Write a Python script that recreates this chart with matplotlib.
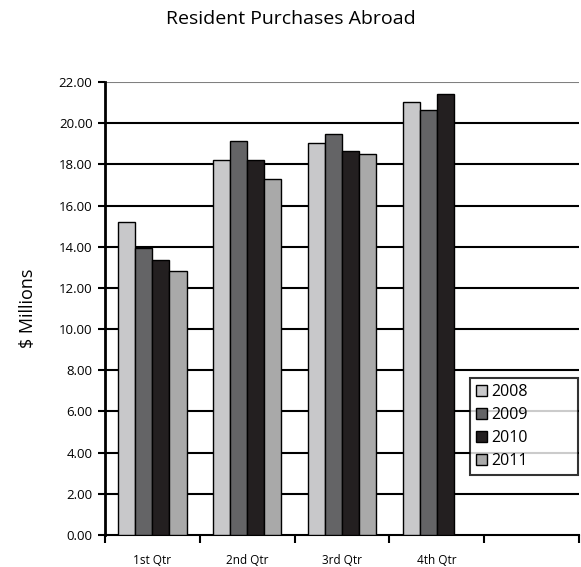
import numpy as np
import matplotlib.pyplot as plt
from matplotlib.ticker import FixedLocator, NullFormatter

plt.rcParams['font.family'] = ['Open Sans', 'DejaVu Sans']

quarters = ['1st Qtr', '2nd Qtr', '3rd Qtr', '4th Qtr']
years = ['2008', '2009', '2010', '2011']
v2008 = [15.20, 18.22, 19.04, 21.02]
v2009 = [13.96, 19.13, 19.46, 20.62]
v2010 = [13.37, 18.21, 18.63, 21.42]
v2011 = [12.83, 17.29, 18.52, np.nan]
colors = ['#c8c8ca', '#646466', '#231f20', '#a9a9a9']

series = [v2008, v2009, v2010, v2011]
n_slots = 5  # empty fifth slot on the axis

fig = plt.figure(figsize=(5.81, 5.67), dpi=100)
ax = fig.add_axes([105 / 581, 1 - 535 / 567, (579 - 105) / 581, (535 - 82) / 567])

x = np.arange(len(quarters))
w = 0.18
for i, (vals, c, yr) in enumerate(zip(series, colors, years)):
    ax.bar(x + (i - 1.5) * w, vals, width=w, color=c, edgecolor='black',
           linewidth=1.0, label=yr, zorder=3)

ax.set_xlim(-0.5, n_slots - 0.5)
ax.set_ylim(0, 22)
yt = np.arange(0, 22.1, 2)
ax.set_yticks(yt)
ax.set_yticklabels([f'{v:.2f}' for v in yt], fontsize=9.5)
for v in yt[1:-1]:
    ax.axhline(v, color='black', linewidth=1.5, zorder=1)
ax.axhline(22, color='#808080', linewidth=1.5, zorder=1)

ax.xaxis.set_major_locator(FixedLocator(np.arange(-0.5, n_slots, 1)))
ax.xaxis.set_major_formatter(NullFormatter())
ax.xaxis.set_minor_locator(FixedLocator(x))
ax.set_xticklabels(quarters, minor=True, fontsize=8.5)
ax.tick_params(axis='x', which='major', length=6, width=1.5, direction='out')
ax.tick_params(axis='x', which='minor', length=0, pad=14)
ax.tick_params(axis='y', length=5, width=1.5, direction='out', pad=4)

for s in ['top', 'right']:
    ax.spines[s].set_visible(False)
ax.spines['left'].set_linewidth(2)
ax.spines['bottom'].set_linewidth(1.5)

ax.set_ylabel('$ Millions', fontsize=13, labelpad=16)
fig.suptitle('Resident Purchases Abroad', fontsize=14, y=0.982)

lx0 = (470 - 105) / 474
ly0 = (535 - 475) / 453
leg = ax.legend(loc='lower left', bbox_to_anchor=(lx0, ly0, (578 - 470) / 474, (475 - 378) / 453),
                mode='expand', frameon=True, fancybox=False, fontsize=11.5,
                handlelength=0.7, handleheight=0.7, handletextpad=0.3,
                labelspacing=0.45, borderpad=0.35, borderaxespad=0)
leg.get_frame().set_edgecolor('black')
leg.get_frame().set_linewidth(1.5)
leg.set_zorder(5)
for t in leg.get_texts():
    t.set_fontstretch('expanded')

fig.savefig('out.png', dpi=100)
